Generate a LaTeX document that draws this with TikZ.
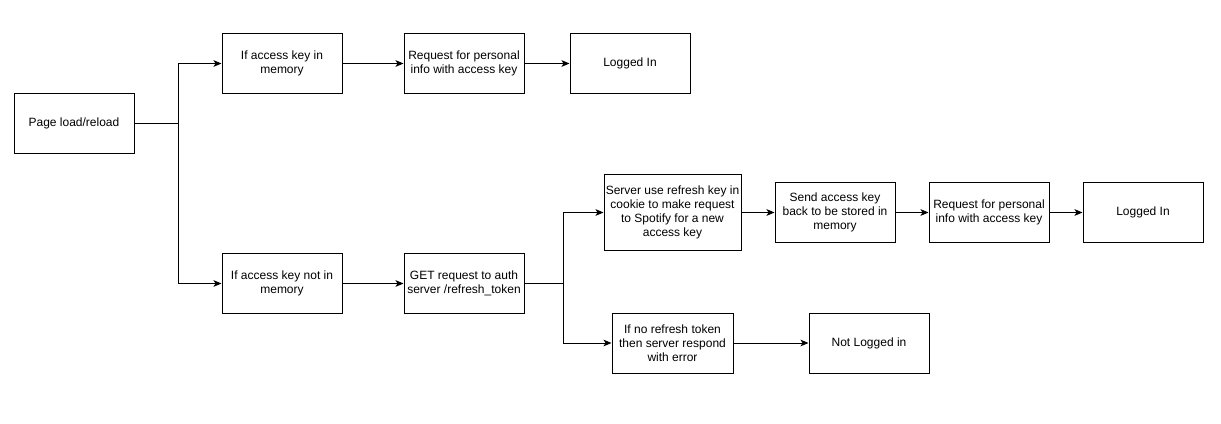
\documentclass[tikz,border=0pt]{standalone}
\usepackage{fontspec}
\setmainfont{Liberation Sans}
\usetikzlibrary{arrows.meta}
\begin{document}
\begin{tikzpicture}[x=0.75pt,y=-0.75pt,
  box/.style={draw=black,line width=0.75pt,rectangle,minimum width=90pt,minimum height=45pt,align=center,inner sep=1pt,font=\fontsize{9pt}{10.5pt}\selectfont},
  line/.style={draw=black,line width=0.75pt},
  arr/.style={line,-{Stealth[length=6pt,width=5pt,inset=1.5pt]}}]
\useasboundingbox (0,0) rectangle (1221,424);
\node[box] (pl) at (74,123.5) {Page load/reload};
\node[box] (a1) at (282,63.5) {If access key in\\memory};
\node[box] (r1) at (464,63.5) {Request for personal\\info with access key};
\node[box] (l1) at (630,63.5) {Logged In};
\node[box] (a2) at (282,283.5) {If access key not in\\memory};
\node[box] (g) at (464,283.5) {GET request to auth\\server /refresh\_token};
\node[box,minimum width=102.75pt,minimum height=56.25pt] (s) at (672.5,212.5) {Server use refresh key in\\cookie to make request\\to Spotify for a new\\access key};
\node[box] (sa) at (835,212.5) {Send access key\\back to be stored in\\memory};
\node[box] (r2) at (989,212.5) {Request for personal\\info with access key};
\node[box] (l2) at (1143,212.5) {Logged In};
\node[box,minimum width=90.75pt] (nr) at (672.5,343) {If no refresh token\\then server respond\\with error};
\node[box] (nl) at (869,343) {Not Logged in};
\coordinate (b1) at (178,123.5);
\coordinate (b2) at (563.5,283.5);
\draw[line] (pl) -- (b1);
\draw[arr] (b1) |- (a1);
\draw[arr] (b1) |- (a2);
\draw[arr] (a1) -- (r1);
\draw[arr] (r1) -- (l1);
\draw[arr] (a2) -- (g);
\draw[line] (g) -- (b2);
\draw[arr] (b2) |- (s);
\draw[arr] (b2) |- (nr);
\draw[arr] (s) -- (sa);
\draw[arr] (sa) -- (r2);
\draw[arr] (r2) -- (l2);
\draw[arr] (nr) -- (nl);
\end{tikzpicture}
\end{document}
